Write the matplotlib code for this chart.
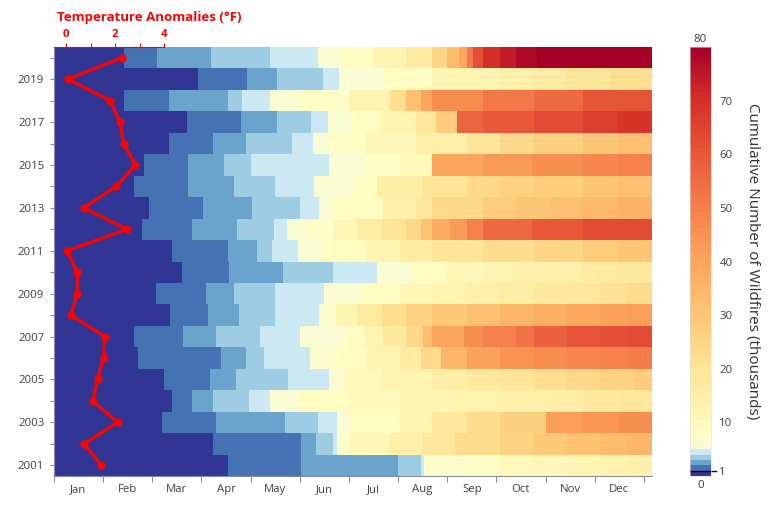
import numpy as np
import matplotlib
matplotlib.use('Agg')
import matplotlib.pyplot as plt
from matplotlib.colors import ListedColormap, Normalize, to_rgb

plt.rcParams['font.family'] = ['Open Sans', 'DejaVu Sans']

years = list(range(2001, 2021))
temp_anom = [1.43, 0.74, 2.10, 1.09, 1.28, 1.53, 1.57, 0.20, 0.44, 0.46,
             0.03, 2.49, 0.71, 2.05, 2.83, 2.35, 2.19, 1.80, 0.07, 2.28]

months = ['Jan', 'Feb', 'Mar', 'Apr', 'May', 'Jun',
          'Jul', 'Aug', 'Sep', 'Oct', 'Nov', 'Dec']

# day of year at which the cumulative count (thousands) passes 1, 2, 3, 4, 5
blue_days = [
    [106, 151, 210, 224, 226],  # 2001
    [97, 151, 160, 170, 173],
    [66, 99, 141, 161, 173],
    [72, 84, 97, 119, 132],
    [67, 95, 111, 143, 168],
    [51, 102, 117, 128, 156],
    [49, 79, 99, 126, 150],
    [71, 94, 113, 135, 162],
    [62, 93, 110, 135, 165],
    [78, 107, 140, 170, 197],
    [72, 106, 124, 133, 149],
    [54, 84, 112, 134, 142],
    [58, 91, 121, 150, 162],
    [49, 82, 110, 135, 159],
    [55, 82, 104, 120, 168],
    [70, 97, 117, 145, 158],
    [81, 114, 136, 157, 167],
    [43, 70, 106, 115, 132],
    [88, 118, 136, 164, 174],
    [43, 63, 96, 132, 161],  # 2020
]

# later in the year: day of year where a segment starts, and its cumulative value (thousands)
late_days = [
    [226, 252, 272, 293, 313, 333, 350],
    [173, 180, 205, 225, 245, 272, 293, 313, 333, 350],
    [173, 180, 211, 231, 252, 272, 300, 323, 344],
    [132, 150, 180, 211, 242, 272, 303, 323, 344],
    [168, 177, 201, 231, 252, 272, 293, 313, 333, 354],
    [156, 170, 191, 211, 224, 236, 252, 272, 293, 313, 333, 350],
    [150, 177, 190, 201, 215, 225, 231, 250, 262, 282, 293, 313, 333, 350],
    [162, 172, 185, 200, 215, 231, 252, 272, 293, 313, 333, 350],
    [165, 187, 211, 231, 252, 272, 293, 313, 333, 350],
    [197, 218, 239, 262, 282, 303, 323, 344],
    [149, 165, 191, 211, 231, 262, 293, 323, 344],
    [142, 155, 170, 185, 200, 215, 224, 231, 242, 252, 262, 292, 323],
    [162, 170, 201, 221, 231, 262, 282, 303, 323, 344],
    [159, 183, 197, 225, 252, 272, 293, 323, 344],
    [168, 190, 211, 231, 262, 292, 323, 344],
    [158, 168, 190, 221, 252, 272, 293, 323, 344],
    [167, 181, 200, 221, 233, 246, 262, 293, 323, 344],
    [132, 150, 180, 205, 215, 224, 231, 262, 293, 323],
    [174, 201, 231, 272, 292, 313, 340],
    [161, 175, 195, 215, 231, 240, 247, 252, 256, 262, 272, 282, 295],
]
late_vals = [
    [7, 8, 10, 11, 12, 13, 14],
    [8, 11, 15, 19, 23, 26, 29, 31, 33, 35],
    [6, 9, 13, 18, 23, 27, 42, 44, 46],
    [6, 9, 10, 12, 13, 15, 16, 18, 19],
    [6, 10, 13, 16, 18, 20, 22, 24, 26, 28],
    [7, 9, 13, 17, 24, 35, 41, 45, 47, 49, 50, 51],
    [6, 9, 13, 18, 24, 33, 40, 46, 50, 53, 58, 61, 62, 63],
    [7, 12, 17, 22, 26, 29, 32, 35, 37, 39, 41, 42],
    [6, 9, 11, 13, 15, 16, 18, 19, 21, 23],
    [6, 9, 11, 12, 14, 15, 17, 18],
    [6, 9, 13, 17, 20, 23, 25, 28, 30],
    [6, 8, 11, 16, 20, 24, 31, 38, 43, 50, 56, 60, 63],
    [6, 9, 14, 19, 24, 28, 30, 32, 34, 36],
    [6, 9, 16, 20, 24, 26, 28, 30, 32],
    [6, 8, 10, 40, 43, 46, 48, 50],
    [6, 8, 11, 15, 20, 24, 27, 30, 32],
    [6, 9, 13, 19, 28, 57, 60, 63, 66, 69],
    [6, 8, 13, 22, 32, 40, 47, 52, 56, 61],
    [6, 9, 12, 15, 17, 20, 22],
    [6, 9, 12, 17, 25, 33, 40, 52, 62, 70, 74, 78, 80],
]

# ---- colormap: discrete blues below 5, continuous yellow-red above ----
blue_cols = ['#313695', '#4472b3', '#6aa3cc', '#9ecce2', '#cce8f3']
anchor_vals = [5, 8, 12, 20, 30, 40, 50, 60, 70, 80]
anchor_cols = ['#f5fad8', '#fffdc6', '#fff5b3', '#fee597', '#fdc676',
               '#fca65d', '#f6804b', '#e85839', '#d42f27', '#a50026']
anchor_rgb = np.array([to_rgb(c) for c in anchor_cols])
N = 800
cols = []
for k in range(N):
    v = (k + 0.5) * 80 / N
    if v < 5:
        cols.append(to_rgb(blue_cols[int(v)]))
    else:
        cols.append(tuple(np.interp(v, anchor_vals, anchor_rgb[:, j]) for j in range(3)))
cmap = ListedColormap(cols)
norm = Normalize(0, 80)

# ---- build the day-by-day grid from the step segments ----
n_days = 365
grid = np.zeros((len(years), n_days))
day_mid = np.arange(n_days) + 0.5
for i in range(len(years)):
    starts = [0] + blue_days[i][:4] + late_days[i]
    vals = [0.5, 1.5, 2.5, 3.5, 4.5] + late_vals[i]
    idx = np.searchsorted(starts, day_mid, side='right') - 1
    grid[i] = np.array(vals, dtype=float)[idx]

W, H = 779, 508
fig = plt.figure(figsize=(W / 100, H / 100), dpi=100)
L, B, Wd, Ht = 54 / W, 32 / H, 598 / W, 429 / H
ax = fig.add_axes([L, B, Wd, Ht])
x_edges = np.arange(n_days + 1)
y_edges = np.arange(years[0] - 0.5, years[-1] + 1.5)
mesh = ax.pcolormesh(x_edges, y_edges, grid, cmap=cmap, norm=norm, shading='flat')
ax.set_xlim(0, n_days)
ax.set_ylim(y_edges[0], y_edges[-1])

tick_col = '#404040'
ax.set_xticks(np.arange(0, 361, 30))
ax.set_xticklabels([])
ax.set_xticks(np.arange(15, 360, 30), minor=True)
ax.set_xticklabels(months, minor=True)
ax.tick_params(axis='x', which='major', length=4, color='#8a8aa0', width=0.8)
ax.tick_params(axis='x', which='minor', length=0, labelsize=8.2, labelcolor=tick_col, pad=6)
ax.set_yticks([y for y in years if y % 2 == 1])
ax.set_yticks([y for y in years if y % 2 == 0], minor=True)
ax.tick_params(axis='y', which='both', length=3, color='#8a8aa0', width=0.8,
               labelsize=8.2, labelcolor=tick_col, pad=4)
for s in ['top', 'right']:
    ax.spines[s].set_visible(False)
for s in ['left', 'bottom']:
    ax.spines[s].set_color('#8a8aa0')
    ax.spines[s].set_linewidth(0.8)

# ---- temperature anomaly line on its own top axis ----
ax2 = fig.add_axes([L, B, 110 / W, Ht])
ax2.patch.set_visible(False)
ax2.plot(temp_anom, years, color='#ff0000', lw=2.4, marker='o', ms=5, zorder=5,
         clip_on=False)
ax2.set_xlim(-0.5, 4.0)
ax2.set_ylim(y_edges[0], y_edges[-1])
ax2.xaxis.tick_top()
ax2.set_xticks([0, 2, 4])
ax2.set_xticks([1, 3], minor=True)
ax2.tick_params(axis='x', which='both', colors='#ff0000', length=3, width=0.8,
                labelsize=8.2, pad=2)
for lab in ax2.get_xticklabels():
    lab.set_fontweight('bold')
ax2.set_yticks([])
for s in ['left', 'right', 'bottom']:
    ax2.spines[s].set_visible(False)
ax2.spines['top'].set_color('#ff0000')
ax2.spines['top'].set_linewidth(0.8)
fig.text(57 / W, 1 - 18 / H, 'Temperature Anomalies (°F)', color='#ff0000',
         fontweight='bold', fontsize=9.5, ha='left', va='center')

# ---- colorbar ----
cax = fig.add_axes([690 / W, B, 21 / W, Ht])
cbar = fig.colorbar(mesh, cax=cax, ticks=[1, 10, 20, 30, 40, 50, 60, 70])
cbar.outline.set_linewidth(0.4)
cbar.outline.set_edgecolor('#e8d8d8')
cax.tick_params(length=0, labelsize=8.2, labelcolor=tick_col, pad=6)
cax.plot([0, 1.25], [1, 1], color='black', lw=1.0, clip_on=False,
         transform=cax.get_yaxis_transform())
cax.text(0.5, 1.005, '80', transform=cax.transAxes, ha='center', va='bottom',
         fontsize=8.2, color=tick_col)
cax.text(0.5, -0.01, '0', transform=cax.transAxes, ha='center', va='top',
         fontsize=8.2, color=tick_col)
cbar.set_label('Cumulative Number of Wildfires (thousands)', rotation=270,
               labelpad=20, fontsize=11, color='#303030')

fig.savefig('out.png', dpi=100)
